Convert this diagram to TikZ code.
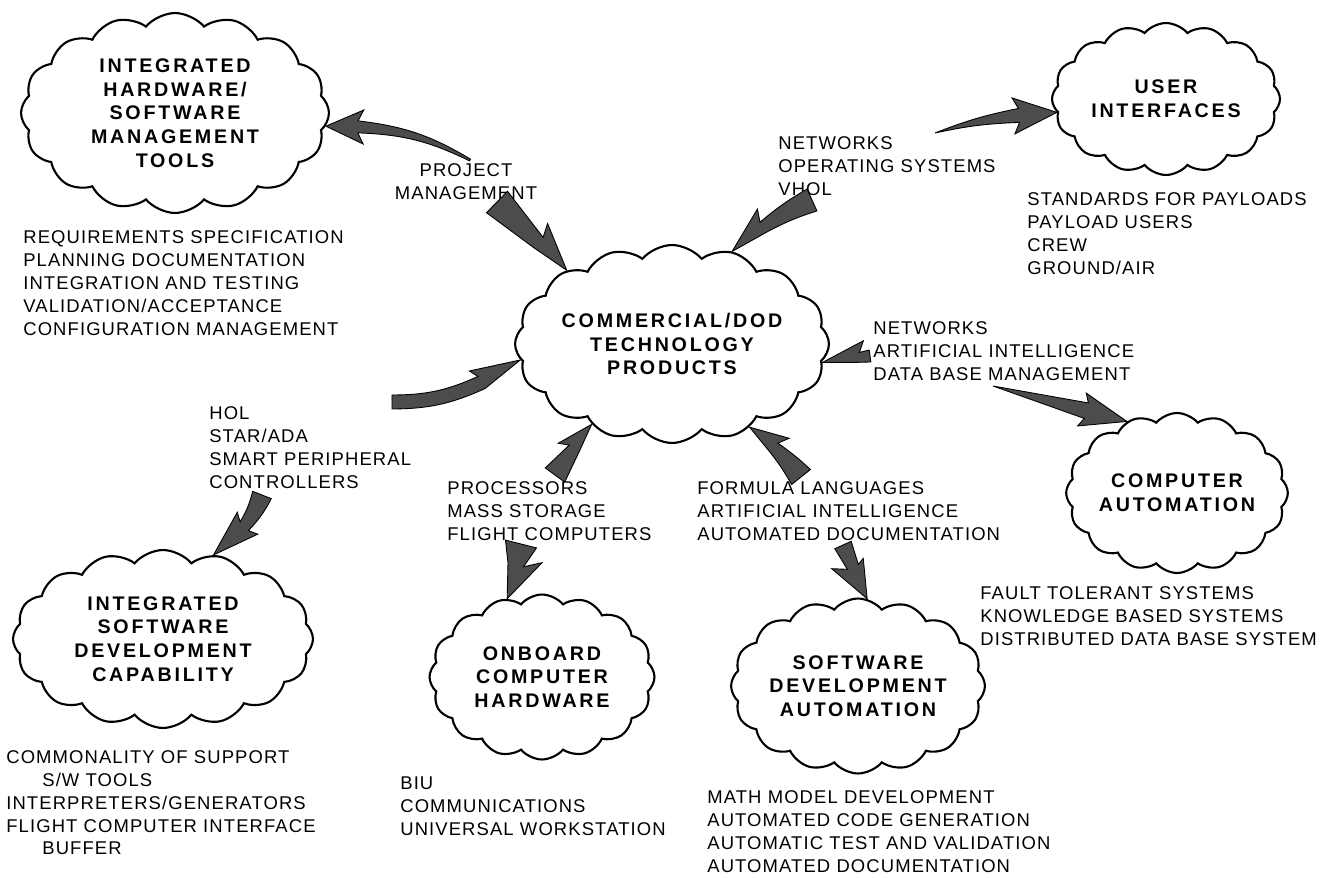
\documentclass[tikz,border=0pt]{standalone}
\usepackage{fontspec}
\setmainfont{Liberation Sans}[LetterSpace=6]
\newfontfamily\cloudfont{Liberation Sans}[LetterSpace=14]
\usepackage{tikz}
\usetikzlibrary{shapes,arrows}
\usetikzlibrary{positioning,calc}
\tikzstyle{cloudbox} = [
    cloud, cloud puffs=16, cloud puff arc=100, cloud ignores aspect,
    draw=black, line width=1.2pt, align=center, inner sep=0pt,
    font=\cloudfont\bfseries\fontsize{11.2}{13.5}\selectfont]
\tikzstyle{lbl} = [align=left, inner sep=0pt, anchor=north west,
    font=\fontsize{10.5}{13}\selectfont]
\tikzstyle{fat} = [fill=black!70, draw=black, line width=0.5pt, line join=miter]

% tapered arrow: tail, tip, bend, tail/neck half width, head length, left/right barb (px)
\newcommand{\fatarrow}[8]{%
  \pgfmathsetmacro\fawt{#4*0.02}%
  \pgfmathsetmacro\fawn{#5*0.02}%
  \pgfmathsetmacro\fahl{#6*0.02}%
  \pgfmathsetmacro\fabl{#7*0.02}%
  \pgfmathsetmacro\fabr{#8*0.02}%
  \pgfmathsetmacro\fakl{max(0,(#7-#5)*0.01)}%
  \pgfmathsetmacro\fakr{max(0,(#8-#5)*0.01)}%
  \pgfmathsetmacro\fang{-(#3)}%
  \pgfmathsetmacro\fatl{90+(#3)}%
  \pgfmathsetmacro\fatr{-90+(#3)}%
  \coordinate (fa-n) at ($(#2)!\fahl cm!\fang:(#1)$);
  \coordinate (fa-nl) at ($(fa-n)!\fawn cm!90:(#2)$);
  \coordinate (fa-nr) at ($(fa-n)!\fawn cm!-90:(#2)$);
  \coordinate (fa-bl) at ($(fa-n)!\fakl cm!180:(#2)!\fabl cm!90:(#2)$);
  \coordinate (fa-br) at ($(fa-n)!\fakr cm!180:(#2)!\fabr cm!-90:(#2)$);
  \coordinate (fa-tl) at ($(#1)!\fawt cm!\fatl:(fa-n)$);
  \coordinate (fa-tr) at ($(#1)!\fawt cm!\fatr:(fa-n)$);
  \filldraw[fat] (fa-tl) to[bend left=#3] (fa-nl) -- (fa-bl) -- (#2)
    -- (fa-br) -- (fa-nr) to[bend right=#3] (fa-tr) -- cycle;
}

\begin{document}
\begin{tikzpicture}[x=0.02cm, y=0.02cm]
\useasboundingbox (0,0) rectangle (1342,-878);

% clouds
\node (hwsw) [cloudbox, minimum width=6.16cm, minimum height=4cm] at (175,-113)
    {INTEGRATED\\ HARDWARE/\\ SOFTWARE\\ MANAGEMENT\\ TOOLS};
\node (ui) [cloudbox, minimum width=4.56cm, minimum height=3.04cm] at (1166,-99)
    {USER\\ INTERFACES};
\node (core) [cloudbox, minimum width=6.24cm, minimum height=3.96cm] at (672,-344)
    {COMMERCIAL/DOD\\ TECHNOLOGY\\ PRODUCTS};
\node (auto) [cloudbox, minimum width=4.4cm, minimum height=3.2cm] at (1177,-493)
    {COMPUTER\\ AUTOMATION};
\node (isw) [cloudbox, minimum width=6cm, minimum height=3.56cm] at (163,-639)
    {INTEGRATED\\ SOFTWARE\\ DEVELOPMENT\\ CAPABILITY};
\node (obh) [cloudbox, minimum width=4.5cm, minimum height=3.3cm] at (542,-677)
    {ONBOARD\\ COMPUTER\\ HARDWARE};
\node (sda) [cloudbox, minimum width=4.42cm, minimum height=3.5cm] at (858,-686)
    {SOFTWARE\\ DEVELOPMENT\\ AUTOMATION};

% lists
\node (mgmtlist) [lbl] at (23,-230.5) {REQUIREMENTS SPECIFICATION\\ PLANNING DOCUMENTATION\\
    INTEGRATION AND TESTING\\ VALIDATION/ACCEPTANCE\\ CONFIGURATION MANAGEMENT};
\node (pmlbl) [lbl, align=center, anchor=north] at (466,-163.4) {PROJECT\\ MANAGEMENT};
\node (oslbl) [lbl] at (778,-136.4) {NETWORKS\\ OPERATING SYSTEMS\\ VHOL};
\node (uilist) [lbl] at (1027,-192.4) {STANDARDS FOR PAYLOADS\\ PAYLOAD USERS\\ CREW\\ GROUND/AIR};
\node (netlbl) [lbl] at (873,-321.4) {NETWORKS\\ ARTIFICIAL INTELLIGENCE\\ DATA BASE MANAGEMENT};
\node (hollbl) [lbl] at (209,-406.4) {HOL\\ STAR/ADA\\ SMART PERIPHERAL\\ CONTROLLERS};
\node (proclbl) [lbl] at (447,-481.4) {PROCESSORS\\ MASS STORAGE\\ FLIGHT COMPUTERS};
\node (formlbl) [lbl] at (697,-481.4) {FORMULA LANGUAGES\\ ARTIFICIAL INTELLIGENCE\\
    AUTOMATED DOCUMENTATION};
\node (autolist) [lbl] at (980,-586.4) {FAULT TOLERANT SYSTEMS\\ KNOWLEDGE BASED SYSTEMS\\
    DISTRIBUTED DATA BASE SYSTEM};
\node (iswlist) [lbl] at (6,-750.4) {COMMONALITY OF SUPPORT\\ \hspace*{0.72cm}S/W TOOLS\\
    INTERPRETERS/GENERATORS\\ FLIGHT COMPUTER INTERFACE\\ \hspace*{0.72cm}BUFFER};
\node (obhlist) [lbl] at (400,-776.4) {BIU\\ COMMUNICATIONS\\ UNIVERSAL WORKSTATION};
\node (sdalist) [lbl] at (707,-790.4) {MATH MODEL DEVELOPMENT\\ AUTOMATED CODE GENERATION\\
    AUTOMATIC TEST AND VALIDATION\\ AUTOMATED DOCUMENTATION};

% arrow tails
\coordinate (pm-a) at (470,-160);
\coordinate (pm-b) at (497,-202);
\coordinate (os-a) at (812,-200);
\coordinate (os-b) at (935,-133);
\coordinate (net-a) at (870,-356);
\coordinate (net-b) at (993,-386);
\coordinate (form-a) at (801,-477);
\coordinate (form-b) at (843,-545);
\coordinate (hol-a) at (392,-402);
\coordinate (hol-b) at (262,-495);
\coordinate (proc-a) at (555,-475);
\coordinate (proc-b) at (521,-544);

\fatarrow{pm-a}{hwsw.-5}{-12}{1}{6}{32}{17}{17}
\fatarrow{pm-b}{core.145}{0}{15}{7}{40}{20}{7}
\fatarrow{os-a}{core.57}{-5}{12}{6}{40}{6}{18}
\fatarrow{os-b}{ui.187}{5}{0}{7}{38}{18}{18}
\fatarrow{net-a}{core.-7}{0}{6}{5}{38}{5}{16}
\fatarrow{net-b}{auto.125}{0}{0}{8}{42}{17}{17}
\fatarrow{form-a}{core.-47}{-4}{12}{6}{32}{6}{17}
\fatarrow{form-b}{sda.84}{0}{9}{6}{35}{13}{20}
\fatarrow{hol-a}{core.186}{-12}{7}{7}{45}{16}{7}
\fatarrow{hol-b}{isw.59}{8}{10}{6}{42}{15}{15}
\fatarrow{proc-a}{core.-135}{0}{12}{6}{30}{16}{6}
\fatarrow{proc-b}{obh.114}{0}{16}{8}{35}{25}{8}
\end{tikzpicture}
\end{document}
